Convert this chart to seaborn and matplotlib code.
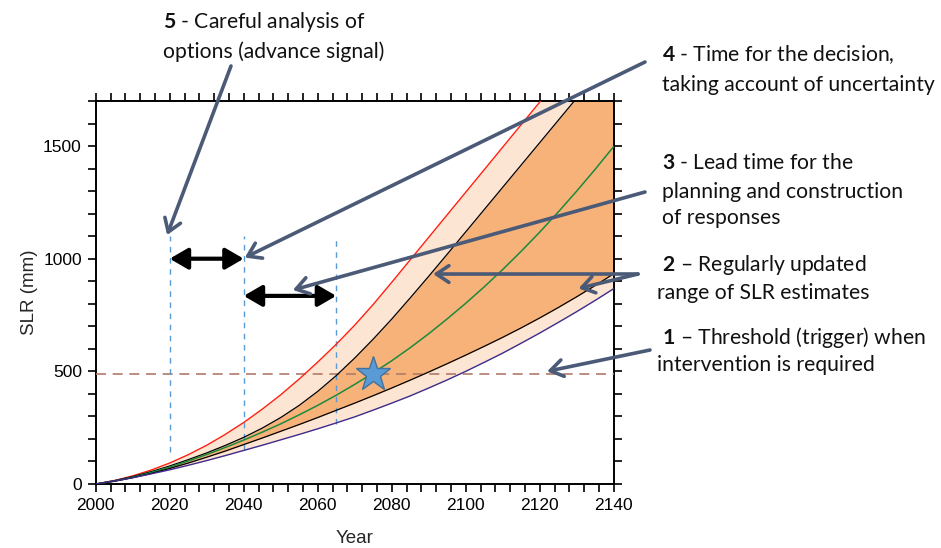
import numpy as np
import pandas as pd
import matplotlib
matplotlib.use("Agg")
import matplotlib.pyplot as plt
from matplotlib.ticker import MultipleLocator
import seaborn as sns

# ---------------- data ----------------
years = list(range(2000, 2141, 5))
slr_high = [0, 15, 36, 62, 93, 130, 172, 220, 273, 332, 396, 466, 541, 620, 705, 797,
            895, 995, 1095, 1195, 1295, 1395, 1495, 1595, 1695, 1795, 1895, 1995, 2095]
slr_upper = [0, 15, 33, 55, 80, 108, 138, 171, 207, 248, 295, 349, 411, 481, 559, 643,
             732, 826, 922, 1020, 1119, 1218, 1317, 1416, 1515, 1614, 1713, 1812, 1911]
slr_central = [0, 13, 30, 51, 75, 102, 131, 162, 195, 230, 267, 307, 349, 394, 442, 493,
               547, 605, 667, 733, 802, 875, 952, 1033, 1118, 1207, 1300, 1397, 1498]
slr_lower = [0, 12, 28, 47, 69, 93, 119, 146, 175, 204, 234, 264, 295, 327, 359, 392,
             426, 461, 497, 534, 572, 611, 651, 693, 737, 783, 831, 881, 933]
slr_low = [0, 13, 28, 45, 63, 83, 104, 126, 149, 172, 196, 220, 245, 271, 298, 328,
           359, 391, 426, 462, 500, 540, 581, 625, 670, 717, 765, 815, 867]

threshold = 490
trigger_year = 2075
vline_years = [2020, 2040, 2065]
vline_bottoms = [140, 150, 268]
vline_top = 1100
arrow_rows = [(2020, 2040, 1000), (2040, 2065, 835)]

labels = {
    "5": [r"$\mathbf{5}$ - Careful analysis of", "options (advance signal)"],
    "4": [r"$\mathbf{4}$ - Time for the decision,", "taking account of uncertainty"],
    "3": [r"$\mathbf{3}$ - Lead time for the", "planning and construction", "of responses"],
    "2": [r" $\mathbf{2}$ – Regularly updated", "range of SLR estimates"],
    "1": [r" $\mathbf{1}$ – Threshold (trigger) when", "intervention is required"],
}

df = pd.DataFrame({"Year": years, "high": slr_high, "upper": slr_upper,
                   "central": slr_central, "lower": slr_lower, "low": slr_low})

# ---------------- style ----------------
sns.set_style("ticks")
plt.rcParams["font.family"] = ["Liberation Sans", "DejaVu Sans"]
plt.rcParams["mathtext.fontset"] = "custom"
plt.rcParams["mathtext.rm"] = "Lato"
plt.rcParams["mathtext.bf"] = "Lato:bold"

W, H = 941, 548
fig = plt.figure(figsize=(W / 100, H / 100), dpi=100)
x0, x1, ytop, ybot = 95.7, 613.7, 101, 484
ax = fig.add_axes([x0 / W, 1 - ybot / H, (x1 - x0) / W, (ybot - ytop) / H])

light = "#fde5d3"
dark = "#f7b27a"
ax.fill_between(df["Year"], df["low"], df["high"], color=light, lw=0, zorder=1)
ax.fill_between(df["Year"], df["lower"], df["upper"], color=dark, lw=0, zorder=2)

sns.lineplot(data=df, x="Year", y="high", color="#ff2010", lw=1.0, ax=ax, zorder=4)
sns.lineplot(data=df, x="Year", y="upper", color="black", lw=0.9, ax=ax, zorder=4)
sns.lineplot(data=df, x="Year", y="central", color="#1c8a3c", lw=1.1, ax=ax, zorder=4)
sns.lineplot(data=df, x="Year", y="lower", color="black", lw=0.9, ax=ax, zorder=4)
sns.lineplot(data=df, x="Year", y="low", color="#3d2c8d", lw=1.0, ax=ax, zorder=4)

ax.axhline(threshold, color="#b07c6a", lw=1.2, ls=(0, (6, 4)), zorder=3)
for xv, yb in zip(vline_years, vline_bottoms):
    ax.plot([xv, xv], [yb, vline_top], color="#5b9bd5", lw=1.0, ls=(0, (4, 4)), zorder=3)

ax.plot([trigger_year], [threshold], marker="*", ms=26, color="#5b9bd5",
        mec="#41719c", mew=1.0, zorder=6)

for xa, xb, yv in arrow_rows:
    ax.annotate("", xy=(xb, yv), xytext=(xa, yv),
                arrowprops=dict(arrowstyle="<|-|>,head_length=0.55,head_width=0.32",
                                color="black", lw=3, mutation_scale=20,
                                shrinkA=0, shrinkB=0), zorder=7)

ax.set_xlim(2000, 2140)
ax.set_ylim(0, 1700)
ax.xaxis.set_major_locator(MultipleLocator(20))
ax.xaxis.set_minor_locator(MultipleLocator(4))
ax.yaxis.set_major_locator(MultipleLocator(500))
ax.yaxis.set_minor_locator(MultipleLocator(100))
ax.tick_params(which="both", direction="out", length=6, width=1.2, top=True, right=True,
               labelsize=12.5, colors="black", pad=4)
for s in ax.spines.values():
    s.set_linewidth(1.4)
    s.set_color("black")
ax.set_xlabel("Year", fontsize=13.5, labelpad=12)
ax.set_ylabel("SLR (mm)", fontsize=13.5, labelpad=3.5)

# ---------------- annotations ----------------
def fxy(px, py):
    return (px / W, 1 - py / H)

grey = "#4b5a76"
gprops = dict(arrowstyle="->,head_length=0.45,head_width=0.3", color=grey, lw=2.6,
              mutation_scale=20, shrinkA=0, shrinkB=0)
arrows = [((2019.3, 1105), (231, 66)),
          ((2040.3, 1005), (645, 62)),
          ((2053.3, 861), (645, 192)),
          ((2091.2, 932), (638, 274)),
          ((2130.5, 868), (638, 274)),
          ((2122.0, 500), (650, 350))]
for head, tail in arrows:
    ax.annotate("", xy=head, xycoords="data", xytext=fxy(*tail),
                textcoords="figure fraction", arrowprops=gprops, zorder=8,
                annotation_clip=False)

tfont = dict(family=["Lato", "DejaVu Sans"], fontsize=15.2, color="#111111",
             va="center", ha="left")
text_pos = {
    "5": (163, [22, 52]),
    "4": (662, [55, 85]),
    "3": (662, [163, 192, 218]),
    "2": (657, [265, 293]),
    "1": (657, [338, 365]),
}
for key, (px, ys) in text_pos.items():
    for line, py in zip(labels[key], ys):
        fig.text(*fxy(px, py), line, **tfont)

fig.savefig("out.png", dpi=100)
